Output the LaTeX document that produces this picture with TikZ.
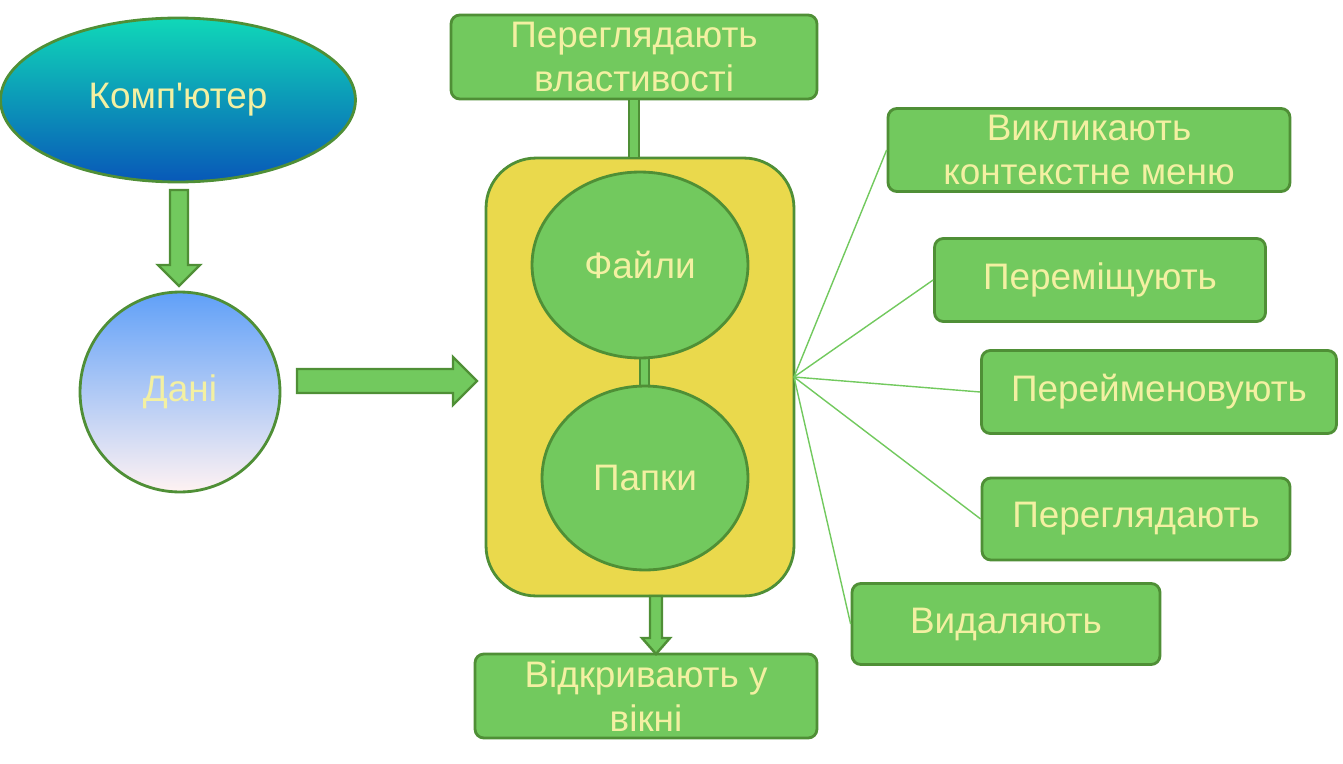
\documentclass[tikz,border=0pt]{standalone}
\usepackage{fontspec}
\setmainfont{Liberation Sans}
\usetikzlibrary{shapes.geometric}
\definecolor{boxgreen}{HTML}{72C95E}
\definecolor{edgegreen}{HTML}{4F8F36}
\definecolor{txtyellow}{HTML}{F3F0A2}
\definecolor{panel}{HTML}{EAD94C}
\definecolor{tealtop}{HTML}{10D8B8}
\definecolor{tealmid}{HTML}{18B8E0}
\definecolor{bluebot}{HTML}{0858B8}
\definecolor{skyblue}{HTML}{60A0F8}
\begin{document}
\begin{tikzpicture}[x=0.02cm,y=-0.02cm,
  every node/.style={font=\fontsize{21}{25}\selectfont, text=txtyellow, align=center},
  gbox/.style={draw=edgegreen, line width=1.6pt, fill=boxgreen, rounded corners=5pt, inner sep=0pt},
  link/.style={draw=boxgreen, line width=0.8pt},
  barrow/.style={draw=edgegreen, line width=1.4pt, fill=boxgreen}]
  \useasboundingbox (0,0) rectangle (1343,764);
  % top part
  \node[ellipse, draw=edgegreen, line width=1.6pt, top color=tealtop, middle color=tealmid, bottom color=bluebot, minimum width=7.1cm, minimum height=3.28cm] (comp) at (178,100) {Комп\textquotesingle ютер};
  \node[circle, draw=edgegreen, line width=1.6pt, top color=skyblue, bottom color=pink!20, minimum size=4cm] (dani) at (180,392) {Дані};
  \draw[barrow] (170,190) -- (188,190) -- (188,265) -- (200,265) -- (179,286) -- (158,265) -- (170,265) -- cycle;
  \draw[barrow] (297,369) -- (453,369) -- (453,357) -- (477,381) -- (453,405) -- (453,393) -- (297,393) -- cycle;
  % middle panel
  \node[gbox, fill=panel, rounded corners=1cm, minimum width=6.16cm, minimum height=8.76cm] (panel) at (640,377) {};
  \draw[draw=edgegreen, fill=boxgreen, line width=1.2pt] (640,355) rectangle (649,390);
  \node[ellipse, draw=edgegreen, line width=1.6pt, fill=boxgreen, minimum width=4.32cm, minimum height=3.72cm] (fajly) at (640,265) {Файли};
  \node[ellipse, draw=edgegreen, line width=1.6pt, fill=boxgreen, minimum width=4.12cm, minimum height=3.68cm] (papky) at (645,478) {Папки};
  \node[gbox, minimum width=7.32cm, minimum height=1.68cm] (vlast) at (634,57) {Переглядають\\властивості};
  \draw[draw=edgegreen, fill=boxgreen, line width=1.2pt] (629,99) rectangle (639,158);
  \node[gbox, minimum width=6.84cm, minimum height=1.68cm] (vikno) at (646,696) {Відкривають у\\вікні};
  \draw[barrow] (650,596) -- (662,596) -- (662,638) -- (670,638) -- (656,654) -- (642,638) -- (650,638) -- cycle;
  % right boxes
  \coordinate (hub) at (794,377);
  \node[gbox, minimum width=8.04cm, minimum height=1.66cm] (menu) at (1089,150) {Викликають\\контекстне меню};
  \node[gbox, minimum width=6.62cm, minimum height=1.66cm] (move) at (1100,280) {Переміщують};
  \node[gbox, minimum width=7.1cm, minimum height=1.66cm] (rename) at (1159,392) {Перейменовують};
  \node[gbox, minimum width=6.16cm, minimum height=1.64cm] (view) at (1136,519) {Переглядають};
  \node[gbox, minimum width=6.16cm, minimum height=1.62cm] (del) at (1006,624) {Видаляють};
  \foreach \b in {menu,move,rename,view,del}
    \draw[link] (hub) -- (\b.west);
\end{tikzpicture}
\end{document}
